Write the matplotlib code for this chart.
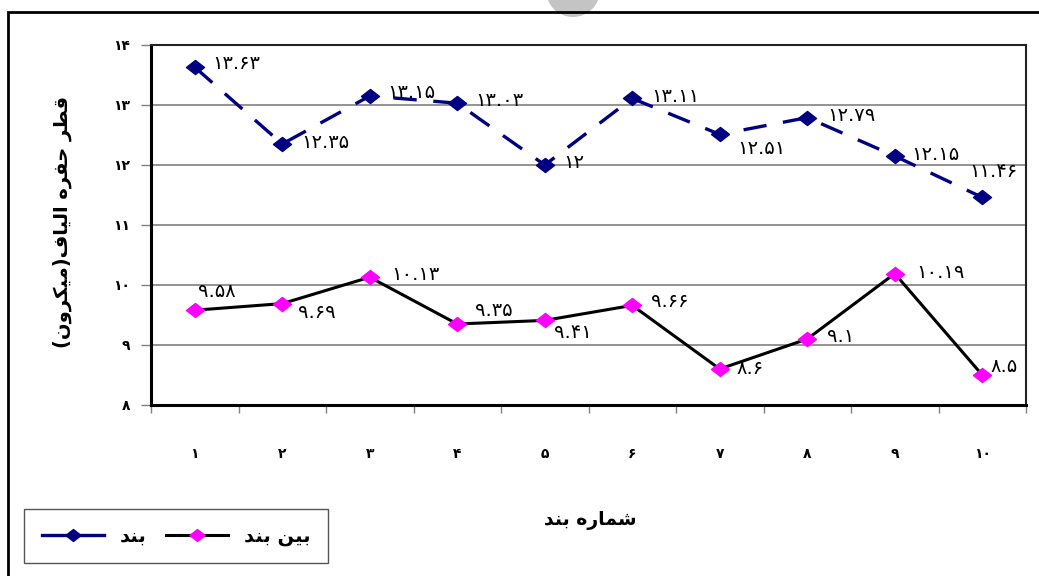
import matplotlib
matplotlib.use("Agg")
import matplotlib.pyplot as plt
from matplotlib.patches import Rectangle, Ellipse
from matplotlib.path import Path

plt.rcParams['font.family'] = ['DejaVu Sans']

# ---- data ----
categories = ['۱', '۲', '۳', '۴', '۵', '۶', '۷', '۸', '۹', '۱۰']
band_values = [13.63, 12.35, 13.15, 13.03, 12.00, 13.11, 12.51, 12.79, 12.15, 11.46]
between_values = [9.58, 9.69, 10.13, 9.35, 9.41, 9.66, 8.60, 9.10, 10.19, 8.50]
band_labels = ['۱۳.۶۳', '۱۲.۳۵', '۱۳.۱۵', '۱۳.۰۳', '۱۲', '۱۳.۱۱', '۱۲.۵۱', '۱۲.۷۹', '۱۲.۱۵', '۱۱.۴۶']
between_labels = ['۹.۵۸', '۹.۶۹', '۱۰.۱۳', '۹.۳۵', '۹.۴۱', '۹.۶۶', '۸.۶', '۹.۱', '۱۰.۱۹', '۸.۵']
y_ticks = [8, 9, 10, 11, 12, 13, 14]
y_tick_labels = ['۸', '۹', '۱۰', '۱۱', '۱۲', '۱۳', '۱۴']

# Arabic-script texts, pre-shaped (presentation forms, visual order)
name_band = '\uFEAA\uFEE8\uFE91'                              # بند
name_between = '\uFEAA\uFEE8\uFE91 \uFEE6\uFEF4\uFE91'        # بین بند
x_title = '\uFEAA\uFEE8\uFE91 \uFEE9\uFEAD\uFE8E\uFEE4\uFEB7'  # شماره بند
y_title = ('(\uFEE5\uFEED\uFEAE\uFEDC\uFEF4\uFEE3)\uFED1\uFE8E\uFEF4\uFEDF\uFE8D '
           '\uFEE9\uFEAE\uFED4\uFEA3 \uFEAE\uFEC4\uFED7')      # قطر حفره الیاف(میکرون)

# label offsets in pixels (dx right, dy up) - styling
band_offsets = [(18, 4), (19, 2), (18, 3), (18, 3), (19, 2), (19, 2), (18, -14), (20, 2), (17, 2), (-13, 26)]
between_offsets = [(3, 19), (16, -9), (22, 3), (18, 14), (9, -12), (19, 4), (17, 1), (20, 2), (22, 1), (8, 9)]

W, H = 1039, 576
fig = plt.figure(figsize=(W / 100, H / 100), dpi=100)

# grey circle artifact at top and outer frame
fig.patches.append(Ellipse((573 / W, 1 + 10 / H), 54 / W, 54 / H, transform=fig.transFigure,
                           facecolor='#c4c4c4', edgecolor='none'))
fig.patches.append(Rectangle((8 / W, -0.05), 1.2, 1 - 12 / H + 0.05, transform=fig.transFigure,
                             fill=False, edgecolor='black', linewidth=2))

ax = fig.add_axes([151 / W, 1 - 405 / H, (1026 - 151) / W, (405 - 45) / H])

x = list(range(len(categories)))

diamond = Path([(-1, 0), (0, 0.78), (1, 0), (0, -0.78), (-1, 0)],
               [Path.MOVETO, Path.LINETO, Path.LINETO, Path.LINETO, Path.CLOSEPOLY])

l1, = ax.plot(x, band_values, color='#000080', lw=2.4, linestyle=(0, (7, 5)),
              marker=diamond, markersize=13, markerfacecolor='#000080',
              markeredgecolor='#000080', label=name_band, zorder=3)
l2, = ax.plot(x, between_values, color='black', lw=2.2, linestyle='-',
              marker=diamond, markersize=13, markerfacecolor='#FF00FF',
              markeredgecolor='#FF00FF', label=name_between, zorder=3)

for xi, v, t, (dx, dy) in zip(x, band_values, band_labels, band_offsets):
    ax.annotate(t, (xi, v), xytext=(dx, dy), textcoords='offset pixels',
                ha='left', va='center', fontsize=14, color='black', zorder=4)
for xi, v, t, (dx, dy) in zip(x, between_values, between_labels, between_offsets):
    ax.annotate(t, (xi, v), xytext=(dx, dy), textcoords='offset pixels',
                ha='left', va='center', fontsize=14, color='black', zorder=4)

ax.set_xlim(-0.5, len(categories) - 0.5)
ax.set_ylim(8, 14)
ax.set_yticks(y_ticks)
ax.set_yticklabels(y_tick_labels, fontsize=10, fontweight='bold')
ax.set_xticks(x)
ax.set_xticklabels(categories, fontsize=10, fontweight='bold')
ax.set_xticks([i - 0.5 for i in range(len(categories) + 1)], minor=True)
ax.tick_params(axis='x', which='major', length=0, pad=30)
ax.tick_params(axis='x', which='minor', length=6, width=1, color='#808080', direction='out')
ax.tick_params(axis='y', which='major', length=7, width=1, color='#808080', direction='out', pad=8)

ax.yaxis.grid(True, color='#808080', linewidth=1.2)
ax.set_axisbelow(True)
for s in ['left', 'bottom']:
    ax.spines[s].set_linewidth(2.2)
for s in ['top', 'right']:
    ax.spines[s].set_linewidth(1.5)
    ax.spines[s].set_color('#222222')

fig.text(590 / W, 1 - 521 / H, x_title, ha='center', va='center', fontsize=13.5, fontweight='bold')
fig.text(62 / W, 1 - 222 / H, y_title, ha='center', va='center', rotation=90,
         fontsize=14, fontweight='bold')

leg = fig.legend(handles=[l1, l2], loc='center', ncol=2,
                 bbox_to_anchor=(176 / W, 1 - 536 / H), bbox_transform=fig.transFigure,
                 prop={'size': 14, 'weight': 'bold'}, handlelength=3.2, columnspacing=1.0,
                 handletextpad=0.8, fancybox=False, borderpad=0.9, framealpha=1)
leg.get_frame().set_edgecolor('#555555')
leg.get_frame().set_linewidth(1)
for h in leg.legend_handles:
    h.set_linestyle('-')
    h.set_markersize(11)

fig.savefig('out.png', dpi=100)
